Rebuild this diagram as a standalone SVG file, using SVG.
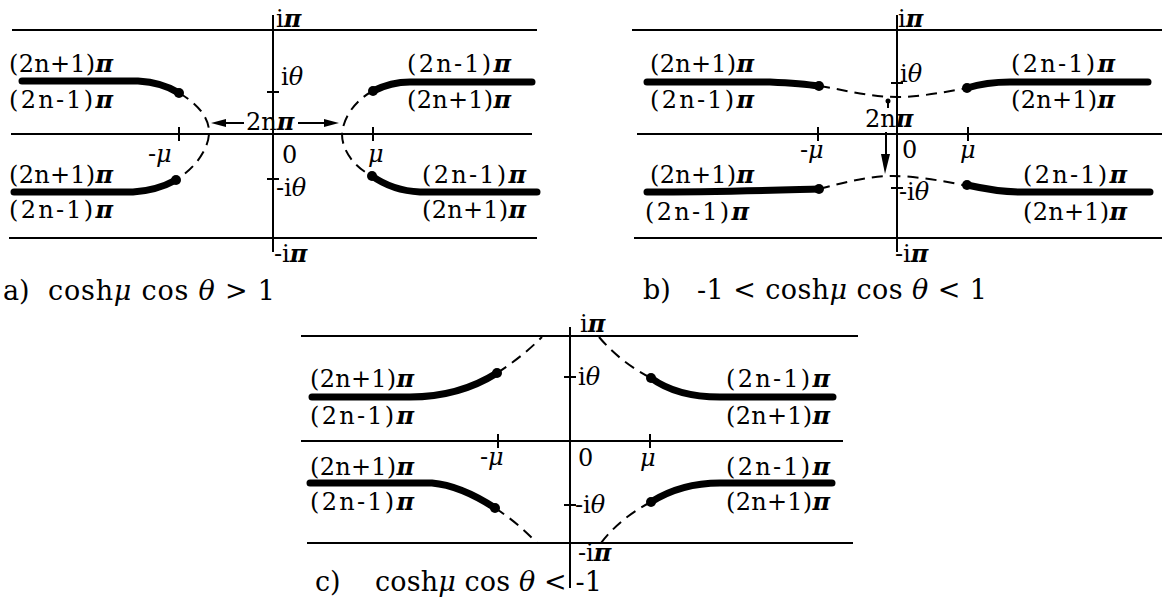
<svg xmlns="http://www.w3.org/2000/svg" width="1164" height="597" viewBox="0 0 1164 597">
<style>
.ax{stroke:#000;stroke-width:2;fill:none}
.thick{stroke:#000;stroke-width:7;fill:none;stroke-linecap:round}
.dash{stroke:#000;stroke-width:2;fill:none;stroke-dasharray:11 7}
.dot{fill:#000}
.arr{fill:#000}
.lbl{font-family:"DejaVu Serif","Liberation Serif",serif;font-size:24px;fill:#000}
.cap{font-family:"DejaVu Serif","Liberation Serif",serif;font-size:27px;fill:#000}
.g{font-style:italic}
.p{font-style:italic;font-weight:bold}
</style>
<rect width="1164" height="597" fill="#fff"/>

<!-- Panel a -->
<g id="panel-a">
  <g id="a-axes">
    <line class="ax" x1="12" y1="30" x2="537" y2="30"/>
    <line class="ax" x1="11" y1="134" x2="532" y2="134"/>
    <line class="ax" x1="9" y1="238" x2="537" y2="238"/>
    <line class="ax" x1="273" y1="15" x2="273" y2="252"/>
    <line class="ax" x1="267" y1="92" x2="279" y2="92"/>
    <line class="ax" x1="267" y1="179" x2="279" y2="179"/>
    <line class="ax" x1="179" y1="127" x2="179" y2="141"/>
    <line class="ax" x1="373" y1="127" x2="373" y2="141"/>
  </g>
  <g id="a-curves">
    <path class="thick" d="M22,81 L138,81 C155,82 168,86 179,93"/>
    <path class="thick" d="M14,192 L133,192 C150,191 165,186 176,180"/>
    <path class="thick" d="M373,91 C385,85 396,82 410,82 L532,82"/>
    <path class="thick" d="M372,176 C386,186 400,191 420,192 L537,192"/>
    <circle class="dot" cx="179" cy="93" r="5"/>
    <circle class="dot" cx="176" cy="180" r="5"/>
    <circle class="dot" cx="373" cy="91" r="5"/>
    <circle class="dot" cx="372" cy="176" r="5"/>
    <path class="dash" d="M179,93 C200,105 210,120 209,134 C208,150 195,168 176,180"/>
    <path class="dash" d="M373,91 C355,100 343,118 342,134 C342,152 356,168 372,176"/>
  </g>
  <g id="a-labels">
    <text class="lbl" x="276" y="27">i<tspan class="p">π</tspan></text>
    <text class="lbl" x="281" y="85">i<tspan class="g">θ</tspan></text>
    <text class="lbl" x="282" y="163">0</text>
    <text class="lbl" x="276" y="196">-i<tspan class="g">θ</tspan></text>
    <text class="lbl" x="274" y="262">-i<tspan class="p">π</tspan></text>
    <text class="lbl" x="148" y="162">-<tspan class="g">μ</tspan></text>
    <text class="lbl" x="368" y="162"><tspan class="g">μ</tspan></text>
    <text class="lbl" x="246" y="130">2n<tspan class="p">π</tspan></text>
    <text class="lbl" x="9" y="72" textLength="104">(2n+1)<tspan class="p">π</tspan></text>
    <text class="lbl" x="9" y="108" textLength="104">(2n-1)<tspan class="p">π</tspan></text>
    <text class="lbl" x="9" y="183" textLength="104">(2n+1)<tspan class="p">π</tspan></text>
    <text class="lbl" x="9" y="218" textLength="104">(2n-1)<tspan class="p">π</tspan></text>
    <text class="lbl" x="407" y="72" textLength="104">(2n-1)<tspan class="p">π</tspan></text>
    <text class="lbl" x="407" y="108" textLength="104">(2n+1)<tspan class="p">π</tspan></text>
    <text class="lbl" x="422" y="183" textLength="104">(2n-1)<tspan class="p">π</tspan></text>
    <text class="lbl" x="422" y="218" textLength="104">(2n+1)<tspan class="p">π</tspan></text>
    <text class="cap" x="3" y="300">a)</text>
    <text class="cap" x="48" y="300" textLength="227">cosh<tspan class="g">μ</tspan> cos <tspan class="g">θ</tspan> &gt; 1</text>
  </g>
</g>

<!-- Panel b -->
<g id="panel-b">
  <g id="b-axes">
    <line class="ax" x1="632" y1="30" x2="1162" y2="30"/>
    <line class="ax" x1="637" y1="134" x2="1162" y2="134"/>
    <line class="ax" x1="634" y1="238" x2="1162" y2="238"/>
    <line class="ax" x1="897" y1="15" x2="897" y2="252"/>
    <line class="ax" x1="891" y1="83" x2="903" y2="83"/>
    <line class="ax" x1="891" y1="188" x2="903" y2="188"/>
    <line class="ax" x1="818" y1="127" x2="818" y2="141"/>
    <line class="ax" x1="968" y1="127" x2="968" y2="141"/>
  </g>
  <g id="b-curves">
    <path class="thick" d="M647,82 L770,82 C790,83 805,84 819,86"/>
    <path class="thick" d="M647,192 C720,192 780,190 819,189"/>
    <path class="thick" d="M967,88 C980,84 995,82 1010,82 L1148,82"/>
    <path class="thick" d="M967,185 C985,189 1000,192 1020,192 L1150,192"/>
    <circle class="dot" cx="819" cy="86" r="5"/>
    <circle class="dot" cx="819" cy="189" r="5"/>
    <circle class="dot" cx="967" cy="88" r="5"/>
    <circle class="dot" cx="967" cy="185" r="5"/>
    <path class="dash" d="M819,86 C845,90 870,97 897,97 C920,97 945,92 967,88"/>
    <path class="dash" d="M819,189 C845,182 870,176 893,176 C915,176 945,181 967,186"/>
  </g>
  <g id="b-labels">
    <text class="lbl" x="898" y="27">i<tspan class="p">π</tspan></text>
    <text class="lbl" x="900" y="82">i<tspan class="g">θ</tspan></text>
    <text class="lbl" x="902" y="158">0</text>
    <text class="lbl" x="899" y="200">-i<tspan class="g">θ</tspan></text>
    <text class="lbl" x="895" y="262">-i<tspan class="p">π</tspan></text>
    <text class="lbl" x="800" y="158">-<tspan class="g">μ</tspan></text>
    <text class="lbl" x="960" y="158"><tspan class="g">μ</tspan></text>
    <text class="lbl" x="865" y="127">2n<tspan class="p">π</tspan></text>
    <text class="lbl" x="650" y="72" textLength="104">(2n+1)<tspan class="p">π</tspan></text>
    <text class="lbl" x="650" y="108" textLength="104">(2n-1)<tspan class="p">π</tspan></text>
    <text class="lbl" x="650" y="183" textLength="104">(2n+1)<tspan class="p">π</tspan></text>
    <text class="lbl" x="645" y="220" textLength="104">(2n-1)<tspan class="p">π</tspan></text>
    <text class="lbl" x="1011" y="72" textLength="104">(2n-1)<tspan class="p">π</tspan></text>
    <text class="lbl" x="1011" y="108" textLength="104">(2n+1)<tspan class="p">π</tspan></text>
    <text class="lbl" x="1023" y="183" textLength="104">(2n-1)<tspan class="p">π</tspan></text>
    <text class="lbl" x="1023" y="220" textLength="104">(2n+1)<tspan class="p">π</tspan></text>
    <text class="cap" x="643" y="299">b)</text>
    <text class="cap" x="697" y="299" textLength="290">-1 &lt; cosh<tspan class="g">μ</tspan> cos <tspan class="g">θ</tspan> &lt; 1</text>
  </g>
</g>

<!-- Panel c -->
<g id="panel-c">
  <g id="c-axes">
    <line class="ax" x1="301" y1="336" x2="858" y2="336"/>
    <line class="ax" x1="301" y1="441" x2="843" y2="441"/>
    <line class="ax" x1="307" y1="543" x2="853" y2="543"/>
    <line class="ax" x1="570" y1="327" x2="570" y2="588"/>
    <line class="ax" x1="564" y1="377" x2="576" y2="377"/>
    <line class="ax" x1="564" y1="505" x2="576" y2="505"/>
    <line class="ax" x1="498" y1="434" x2="498" y2="448"/>
    <line class="ax" x1="650" y1="434" x2="650" y2="448"/>
  </g>
  <g id="c-curves">
    <path class="thick" d="M312,397 L410,397 C440,397 470,390 497,373"/>
    <path class="thick" d="M310,483 L432,483 C455,485 475,495 495,508"/>
    <path class="thick" d="M651,378 C670,392 695,397 720,397 L833,397"/>
    <path class="thick" d="M651,502 C670,490 695,483 720,483 L832,483"/>
    <circle class="dot" cx="497" cy="373" r="5"/>
    <circle class="dot" cx="495" cy="508" r="5"/>
    <circle class="dot" cx="651" cy="378" r="5"/>
    <circle class="dot" cx="651" cy="502" r="5"/>
    <path class="dash" d="M497,373 Q522,357 542,337"/>
    <path class="dash" d="M599,337 Q620,362 651,378"/>
    <path class="dash" d="M495,508 Q518,523 537,543"/>
    <path class="dash" d="M651,502 Q620,518 601,543"/>
  </g>
  <g id="c-labels">
    <text class="lbl" x="580" y="332">i<tspan class="p">π</tspan></text>
    <text class="lbl" x="578" y="385">i<tspan class="g">θ</tspan></text>
    <text class="lbl" x="578" y="466">0</text>
    <text class="lbl" x="575" y="513">-i<tspan class="g">θ</tspan></text>
    <text class="lbl" x="578" y="561">-i<tspan class="p">π</tspan></text>
    <text class="lbl" x="480" y="465">-<tspan class="g">μ</tspan></text>
    <text class="lbl" x="640" y="466"><tspan class="g">μ</tspan></text>
    <text class="lbl" x="310" y="387" textLength="104">(2n+1)<tspan class="p">π</tspan></text>
    <text class="lbl" x="310" y="424" textLength="104">(2n-1)<tspan class="p">π</tspan></text>
    <text class="lbl" x="310" y="475" textLength="104">(2n+1)<tspan class="p">π</tspan></text>
    <text class="lbl" x="310" y="510" textLength="104">(2n-1)<tspan class="p">π</tspan></text>
    <text class="lbl" x="726" y="387" textLength="104">(2n-1)<tspan class="p">π</tspan></text>
    <text class="lbl" x="726" y="424" textLength="104">(2n+1)<tspan class="p">π</tspan></text>
    <text class="lbl" x="726" y="475" textLength="104">(2n-1)<tspan class="p">π</tspan></text>
    <text class="lbl" x="726" y="510" textLength="104">(2n+1)<tspan class="p">π</tspan></text>
    <text class="cap" x="315" y="591">c)</text>
    <text class="cap" x="375" y="591" textLength="227">cosh<tspan class="g">μ</tspan> cos <tspan class="g">θ</tspan> &lt; -1</text>
  </g>
</g>

<!-- Connectors: 2nπ arrows -->
<g id="connectors">
  <line class="ax" x1="225" y1="123" x2="244" y2="123"/>
  <polygon class="arr" points="211,123 226,119 226,127"/>
  <line class="ax" x1="298" y1="123" x2="324" y2="123"/>
  <polygon class="arr" points="339,123 324,119 324,127"/>
  <circle class="dot" cx="888" cy="101" r="2.5"/>
  <line class="ax" x1="888" y1="101" x2="888" y2="108"/>
  <line class="ax" x1="886" y1="132" x2="886" y2="156"/>
  <polygon class="arr" points="885,174 881,154 890,154"/>
</g>
</svg>
